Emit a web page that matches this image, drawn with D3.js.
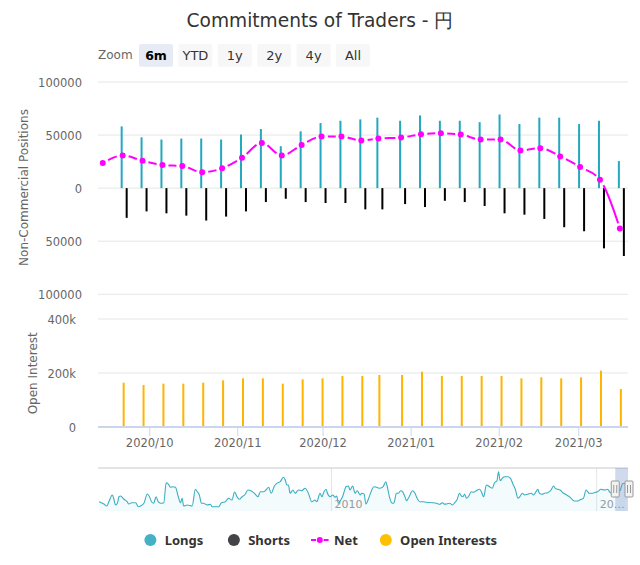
<!DOCTYPE html>
<html><head><meta charset="utf-8">
<script src="https://cdn.jsdelivr.net/npm/d3@7"></script>
<style>body{margin:0;background:#fff}svg{display:block;font-family:"DejaVu Sans",sans-serif}</style>
</head><body><svg id="c" width="640" height="565"></svg>
<script>
// ---------- data ----------
const dates = ["2020-09-15","2020-09-22","2020-09-29","2020-10-06","2020-10-13","2020-10-20","2020-10-27",
  "2020-11-03","2020-11-10","2020-11-17","2020-11-24","2020-12-01","2020-12-08","2020-12-15","2020-12-21",
  "2020-12-29","2021-01-05","2021-01-12","2021-01-19","2021-01-26","2021-02-02","2021-02-09","2021-02-16",
  "2021-02-23","2021-03-02","2021-03-09","2021-03-16"];
const longs = [null,58200,47900,45800,46700,46700,45800,50500,55700,39500,53500,61300,63500,64800,66400,
  63500,68500,63500,63500,62200,69400,60400,66400,66400,60400,63500,25500];
const shorts = [null,28000,21900,23700,25900,30500,26800,21900,13100,10000,13100,14000,14000,20000,20000,
  15000,17800,11900,13100,16800,23700,25000,29000,36800,40600,56700,63900];
const net = [23600,30800,25800,21800,20800,15000,18700,28600,42600,30800,40700,48600,48600,44900,46700,
  47700,50700,51700,50500,45800,45800,35500,37700,29900,19900,7800,-38000];
const openInterest = [null,164000,155600,160500,160500,164000,172800,180200,180200,160500,176500,180200,
  188900,188900,192600,192600,204900,188900,188900,188900,188900,180200,184000,180200,184000,208600,140700];
const posTicks = [-100000,-50000,0,50000,100000];
const oiTicks = [0,200000,400000];
const oiTickLabels = ["0","200k","400k"];
const zoomButtons = ["6m","YTD","1y","2y","4y","All"];
const legendNames = ["Longs","Shorts","Net","Open Interests"];
// navigator: longs history (thousands of contracts) by decimal year
const navYears = [2001.24,2001.42,2001.53,2001.61,2001.74,2001.80,2001.86,2001.93,2001.99,2002.05,
 2002.18,2002.30,2002.36,2002.47,2002.62,2002.72,2002.80,2002.93,2003.06,2003.14,
 2003.22,2003.30,2003.39,2003.47,2003.56,2003.68,2003.77,2003.85,2003.93,2004.02,
 2004.12,2004.22,2004.31,2004.37,2004.43,2004.56,2004.75,2004.87,2004.94,2005.02,
 2005.10,2005.18,2005.31,2005.44,2005.50,2005.62,2005.75,2005.85,2006.00,2006.12,
 2006.25,2006.35,2006.44,2006.53,2006.63,2006.73,2006.85,2006.98,2007.10,2007.23,
 2007.32,2007.44,2007.53,2007.63,2007.73,2007.85,2007.94,2008.07,2008.19,2008.26,
 2008.32,2008.38,2008.44,2008.55,2008.63,2008.76,2008.88,2009.01,2009.13,2009.26,
 2009.38,2009.45,2009.57,2009.64,2009.72,2009.80,2009.85,2009.95,2010.05,2010.14,
 2010.20,2010.26,2010.35,2010.42,2010.55,2010.64,2010.70,2010.80,2010.89,2010.97,
 2011.08,2011.14,2011.23,2011.30,2011.39,2011.52,2011.60,2011.70,2011.83,2011.95,
 2012.05,2012.10,2012.18,2012.27,2012.35,2012.45,2012.52,2012.61,2012.68,2012.77,
 2012.83,2012.93,2013.06,2013.14,2013.23,2013.33,2013.45,2013.58,2013.83,2013.96,
 2014.08,2014.18,2014.27,2014.46,2014.56,2014.65,2014.73,2014.83,2014.90,2014.96,
 2015.02,2015.09,2015.18,2015.27,2015.36,2015.46,2015.59,2015.65,2015.74,2015.84,
 2015.96,2016.06,2016.15,2016.24,2016.30,2016.36,2016.44,2016.53,2016.65,2016.75,
 2016.84,2016.94,2017.03,2017.12,2017.19,2017.28,2017.40,2017.53,2017.62,2017.69,
 2017.78,2017.84,2017.94,2018.03,2018.15,2018.28,2018.37,2018.44,2018.53,2018.62,
 2018.72,2018.82,2018.91,2019.00,2019.07,2019.16,2019.28,2019.41,2019.50,2019.60,
 2019.66,2019.72,2019.82,2019.95,2020.03,2020.16,2020.29,2020.41,2020.50,2020.58,
 2020.66,2020.79,2020.88,2020.97,2021.10];
const navLongs = [28.1,21.2,15.1,28.1,48.4,35.4,18.1,23.3,43.2,45.3,
 35.4,28.1,21.2,25.1,25.1,13.0,15.1,23.3,51.4,43.2,
 28.1,23.3,43.2,28.1,23.3,25.1,85.5,81.6,71.6,73.5,
 71.6,45.3,25.1,38.4,15.1,18.1,15.1,65.6,58.3,48.4,
 23.3,23.3,18.1,20.3,13.0,13.0,13.0,25.1,28.1,38.4,
 33.3,57.4,43.2,35.4,43.2,48.4,63.5,60.5,53.5,43.2,
 58.3,58.3,63.5,71.6,53.5,75.6,83.7,88.6,101.9,93.7,
 78.6,78.6,53.5,63.5,53.5,63.5,61.4,68.6,53.5,28.1,
 33.3,28.1,53.5,43.2,58.3,65.6,53.5,43.2,48.4,41.4,
 45.3,23.3,33.3,43.2,73.5,75.6,63.5,75.6,53.5,61.4,
 48.4,53.5,51.4,21.2,35.4,63.5,73.5,71.6,68.6,73.5,
 88.6,75.6,45.3,25.1,23.3,53.5,53.5,61.4,58.3,43.2,
 31.1,43.2,61.4,55.3,38.4,28.1,28.1,26.3,25.1,23.3,
 20.3,25.1,20.3,23.3,18.1,25.1,33.3,53.5,45.3,43.2,
 51.4,38.4,45.3,58.3,56.5,61.4,65.6,58.3,43.2,78.6,
 73.5,68.6,85.5,91.6,118.8,91.6,98.9,103.7,103.7,98.9,
 81.6,63.5,38.4,45.3,53.5,48.4,50.5,53.5,48.4,55.3,
 65.6,53.5,50.5,53.5,55.3,63.5,75.6,68.6,65.6,63.5,
 55.3,50.5,46.3,41.4,35.4,30.2,30.2,35.4,38.4,63.5,
 58.3,53.5,53.5,56.5,58.3,65.6,63.5,65.6,56.5,53.5,
 73.5,65.6,61.4,82.5,83.7];
const navLabelYears = [2010,2020];
const navLabelTexts = ["2010","20…"];

// ---------- setup ----------
const C_LONG="#24a8c0", C_SHORT="#000000", C_NET="#ff00ff", C_OI="#ffb400";
const svg = d3.select("#c");
const X0=98, X1=628;
const parse = d3.utcParse("%Y-%m-%d");
const D = dates.map(parse);
const x = d3.scaleUtc().domain([new Date(Date.UTC(2020,8,12,19)), new Date(Date.UTC(2021,2,18,8))]).range([X0,X1]);
const y = d3.scaleLinear().domain([-100000,100000]).range([294.3,82]);
const yo = d3.scaleLinear().domain([0,400000]).range([427,319]);

// title
svg.append("text").attr("x",320).attr("y",27).attr("text-anchor","middle")
  .attr("font-size",18.6).attr("fill","#333").text("Commitments of Traders - 円");

// range selector
svg.append("text").attr("x",98).attr("y",59).attr("font-size",12).attr("fill","#666").text("Zoom");
const bg = svg.append("g");
zoomButtons.forEach((b,i)=>{
  const bx = 139 + i*39.4;
  bg.append("rect").attr("x",bx).attr("y",44).attr("width",34).attr("height",22.7).attr("rx",2)
    .attr("fill", i===0 ? "#e6ebf5" : "#f7f7f7");
  bg.append("text").attr("x",bx+17).attr("y",59.5).attr("text-anchor","middle")
    .attr("font-size", i===0 ? 12.5 : 13).attr("font-weight", i===0 ? "bold" : "normal")
    .attr("fill", i===0 ? "#000" : "#333").text(b);
});

// top pane grid + labels
const gTop = svg.append("g");
posTicks.forEach(v=>{
  gTop.append("line").attr("x1",X0).attr("x2",X1).attr("y1",y(v)).attr("y2",y(v))
    .attr("stroke","#e6e6e6").attr("stroke-width",1);
  gTop.append("text").attr("x",82).attr("y",y(v)+4.5).attr("text-anchor","end")
    .attr("font-size",11.5).attr("fill","#666").text(Math.abs(v));
});
svg.append("text").attr("transform","translate(28,187.5) rotate(-90)").attr("text-anchor","middle")
  .attr("font-size",12).attr("fill","#666").text("Non-Commercial Positions");

// bottom pane grid + labels
oiTicks.forEach((v,i)=>{
  if(v>0) svg.append("line").attr("x1",X0).attr("x2",X1).attr("y1",yo(v)).attr("y2",yo(v))
    .attr("stroke","#e6e6e6");
  svg.append("text").attr("x",76).attr("y",yo(v)+4.5).attr("text-anchor","end")
    .attr("font-size",11.5).attr("fill","#666").text(oiTickLabels[i]);
});
svg.append("text").attr("transform","translate(37,373.3) rotate(-90)").attr("text-anchor","middle")
  .attr("font-size",12).attr("fill","#666").text("Open Interest");

// bars
const idx = d3.range(dates.length);
svg.append("g").selectAll("rect").data(idx.filter(i=>longs[i]!=null)).join("rect")
  .attr("x",i=>x(D[i])-2.5-1).attr("width",2)
  .attr("y",i=>y(longs[i])).attr("height",i=>y(0)-y(longs[i])).attr("fill",C_LONG);
svg.append("g").selectAll("rect").data(idx.filter(i=>shorts[i]!=null)).join("rect")
  .attr("x",i=>x(D[i])+2.5-1).attr("width",2)
  .attr("y",y(0)).attr("height",i=>y(-shorts[i])-y(0)).attr("fill",C_SHORT);
svg.append("g").selectAll("rect").data(idx.filter(i=>openInterest[i]!=null)).join("rect")
  .attr("x",i=>x(D[i])-0.5-1).attr("width",2)
  .attr("y",i=>yo(openInterest[i])).attr("height",i=>yo(0)-yo(openInterest[i])).attr("fill",C_OI);

// x axis (bottom)
svg.append("line").attr("x1",X0).attr("x2",X1).attr("y1",427).attr("y2",427)
  .attr("stroke","#ccd6eb").attr("stroke-width",2);
const months = x.ticks(d3.utcMonth.every(1));
const fmt = d3.utcFormat("%Y/%m");
months.forEach(m=>{
  svg.append("line").attr("x1",x(m)).attr("x2",x(m)).attr("y1",427).attr("y2",436)
    .attr("stroke","#ccd6eb");
  svg.append("text").attr("x",x(m)).attr("y",447).attr("text-anchor","middle")
    .attr("font-size",11.5).attr("fill","#666").text(fmt(m));
});

// net line
const npx = idx.map(i=>[x(D[i])-1.5, y(net[i])]);
const line = d3.line().curve(d3.curveMonotoneX);
const netPath = svg.append("path").attr("d",line(npx)).attr("fill","none")
  .attr("stroke",C_NET).attr("stroke-width",2);
(function(){
  const node=netPath.node(), total=node.getTotalLength();
  function lenAtX(px){let lo=0,hi=total;for(let k=0;k<40;k++){const m=(lo+hi)/2;if(node.getPointAtLength(m).x<px)lo=m;else hi=m;}return (lo+hi)/2;}
  const Ls=npx.map(p=>lenAtX(p[0])); Ls[0]=0; Ls[Ls.length-1]=total;
  const g=6, arr=[0,g];
  for(let i=0;i<Ls.length-1;i++){
    const seg=Ls[i+1]-Ls[i];
    arr.push(Math.max(seg-2*g,1)); arr.push(i<Ls.length-2?2*g:g);
  }
  netPath.attr("stroke-dasharray",arr.join(","));
})();
svg.append("g").selectAll("circle").data(npx).join("circle")
  .attr("cx",d=>d[0]).attr("cy",d=>d[1]).attr("r",3).attr("fill",C_NET);

// navigator
const nx = d3.scaleLinear().domain([2001.20,2021.18]).range([X0,X1]);
const ny = d3.scaleLinear().domain([0,130]).range([511,468]);
const navPts = navYears.map((yr,i)=>[nx(yr), ny(navLongs[i])]);
navLabelYears.forEach((yr,i)=>{
  svg.append("line").attr("x1",nx(yr)).attr("x2",nx(yr)).attr("y1",468).attr("y2",511)
    .attr("stroke","#e6e6e6");
});
svg.append("path").attr("d",d3.area().curve(d3.curveMonotoneX).x(d=>d[0]).y0(511).y1(d=>d[1])(navPts))
  .attr("fill","rgba(36,168,192,0.05)");
svg.append("path").attr("d",d3.line().curve(d3.curveMonotoneX)(navPts)).attr("fill","none")
  .attr("stroke","#3aaec4").attr("stroke-width",1.1);
navLabelYears.forEach((yr,i)=>{
  svg.append("text").attr("x",nx(yr)+3).attr("y",508).attr("font-size",11)
    .attr("fill","#999").text(navLabelTexts[i]);
});
svg.append("line").attr("x1",X0).attr("x2",X1).attr("y1",468).attr("y2",468).attr("stroke","#c8c8c8");
const toYear = d=>{const y0=Date.UTC(d.getUTCFullYear(),0,1), y1=Date.UTC(d.getUTCFullYear()+1,0,1);return d.getUTCFullYear()+(d-y0)/(y1-y0);};
const s0 = nx(toYear(x.domain()[0])), s1 = Math.min(nx(toYear(x.domain()[1])),X1);
svg.append("rect").attr("x",s0).attr("y",468).attr("width",s1-s0).attr("height",43)
  .attr("fill","rgba(102,133,194,0.3)");
[s0, s1+1].forEach(hx=>{
  const h=svg.append("g").attr("transform",`translate(${hx},489)`);
  h.append("rect").attr("x",-4).attr("y",-8).attr("width",8).attr("height",16).attr("rx",1)
    .attr("fill","#f2f2f2").attr("stroke","#999");
  h.append("line").attr("x1",-1.5).attr("x2",-1.5).attr("y1",-4).attr("y2",4).attr("stroke","#999");
  h.append("line").attr("x1",1.5).attr("x2",1.5).attr("y1",-4).attr("y2",4).attr("stroke","#999");
});

// legend
const lg = svg.append("g").attr("font-family","'Noto Sans',sans-serif").attr("font-size",13)
  .attr("font-weight","bold").attr("fill","#333");
const legX = [150.4,233.9,319.8,385.8];
const legColors = ["#45b0c6","#434348",C_NET,"#ffc000"];
legendNames.forEach((n,i)=>{
  if(i===2){
    lg.append("line").attr("x1",311).attr("x2",316).attr("y1",540).attr("y2",540).attr("stroke",C_NET).attr("stroke-width",2);
    lg.append("line").attr("x1",323.6).attr("x2",328.6).attr("y1",540).attr("y2",540).attr("stroke",C_NET).attr("stroke-width",2);
    lg.append("circle").attr("cx",legX[i]).attr("cy",540).attr("r",3).attr("fill",C_NET);
    lg.append("text").attr("x",334).attr("y",544.5).text(n);
  } else {
    lg.append("circle").attr("cx",legX[i]).attr("cy",540).attr("r",6).attr("fill",legColors[i]);
    lg.append("text").attr("x",legX[i]+14.3).attr("y",544.5).text(n);
  }
});
</script></body></html>
